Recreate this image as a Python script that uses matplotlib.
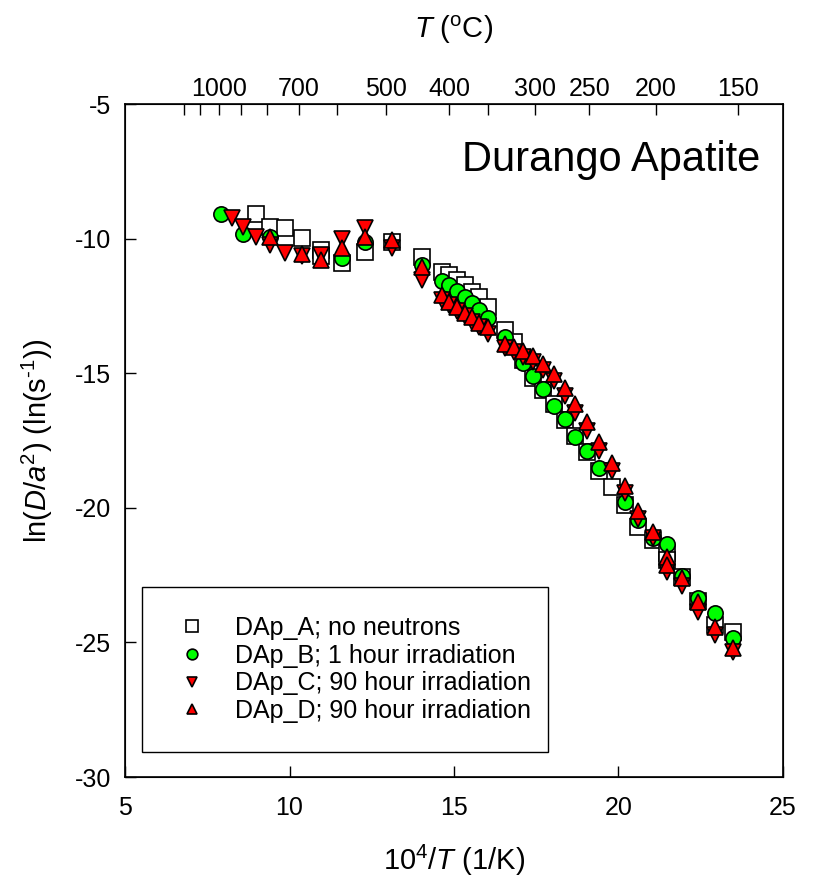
import numpy as np
import matplotlib
matplotlib.use('Agg')
import matplotlib.pyplot as plt

plt.rcParams['font.family'] = ['Liberation Sans', 'DejaVu Sans']
plt.rcParams['mathtext.fontset'] = 'custom'
plt.rcParams['mathtext.rm'] = 'Liberation Sans'
plt.rcParams['mathtext.it'] = 'Liberation Sans:italic'
plt.rcParams['axes.unicode_minus'] = False

# DAp_A; no neutrons (squares)
xa = [8.98, 9.41, 9.87, 10.38, 10.95, 10.95, 11.59, 12.29, 13.11, 14.02,
      14.63, 14.86, 15.09, 15.32, 15.54, 15.77, 16.03, 16.54, 16.82, 17.11,
      17.41, 17.71, 18.04, 18.37, 18.68, 19.05, 19.42, 19.80, 20.20, 20.60,
      21.04, 21.47, 21.47, 21.92, 22.43, 22.93, 23.47]
ya = [-9.10, -9.57, -9.61, -9.96, -10.42, -10.65, -10.91, -10.50, -10.13, -10.68,
      -11.23, -11.35, -11.54, -11.72, -11.97, -12.18, -12.53, -13.40, -13.84, -14.51,
      -15.18, -15.62, -16.14, -16.74, -17.33, -17.93, -18.63, -19.23, -19.90, -20.70,
      -21.20, -21.68, -21.94, -22.57, -23.46, -24.35, -24.61]

# DAp_B; 1 hour irradiation (green circles)
xb = [7.91, 8.58, 9.41, 11.59, 12.29, 14.02, 14.63, 14.86, 15.09, 15.32,
      15.54, 15.77, 16.03, 16.54, 17.11, 17.41, 17.71, 18.04, 18.37, 18.68,
      19.05, 19.42, 20.20, 20.60, 21.04, 21.47, 21.92, 22.43, 22.93, 23.47]
yb = [-9.10, -9.84, -9.93, -10.72, -10.13, -10.98, -11.56, -11.72, -11.95, -12.16,
      -12.38, -12.65, -12.96, -13.67, -14.63, -15.10, -15.60, -16.22, -16.71, -17.36,
      -17.88, -18.53, -19.77, -20.45, -21.12, -21.34, -22.53, -23.36, -23.90, -24.85]

# DAp_C; 90 hour irradiation (down triangles)
xc = [8.24, 8.58, 8.98, 9.41, 9.87, 10.38, 10.95, 11.59, 12.29, 13.11,
      14.02, 14.63, 14.86, 15.09, 15.32, 15.54, 15.77, 16.03, 16.54, 16.82,
      17.11, 17.41, 17.71, 18.04, 18.37, 18.68, 19.05, 19.42, 19.80, 20.20,
      20.60, 21.04, 21.47, 21.92, 22.43, 22.93, 23.47]
yc = [-9.23, -9.57, -9.93, -10.24, -10.55, -10.65, -10.61, -10.00, -9.60, -10.35,
      -11.54, -12.28, -12.47, -12.68, -12.88, -13.09, -13.29, -13.54, -14.08, -14.21,
      -14.40, -14.58, -14.88, -15.29, -15.85, -16.48, -17.15, -17.89, -18.63, -19.45,
      -20.42, -21.12, -22.37, -22.90, -23.86, -24.72, -25.36]

# DAp_D; 90 hour irradiation (up triangles)
xd = [9.41, 10.38, 10.95, 11.59, 12.29, 13.11, 14.02, 14.63, 14.86, 15.09,
      15.32, 15.54, 15.77, 16.03, 16.54, 16.82, 17.11, 17.41, 17.71, 18.04,
      18.37, 18.68, 19.05, 19.42, 19.80, 20.20, 20.60, 21.04, 21.47, 21.47,
      21.92, 22.43, 22.93, 23.47]
yd = [-9.93, -10.57, -10.80, -10.35, -9.93, -10.05, -11.04, -12.10, -12.34, -12.53,
      -12.75, -12.92, -13.15, -13.29, -13.92, -14.03, -14.18, -14.36, -14.66, -15.03,
      -15.55, -16.14, -16.81, -17.56, -18.34, -19.19, -20.12, -20.90, -21.83, -22.12,
      -22.61, -23.50, -24.43, -25.21]

labels = ['DAp_A; no neutrons', 'DAp_B; 1 hour irradiation',
          'DAp_C; 90 hour irradiation', 'DAp_D; 90 hour irradiation']

# top axis temperatures (deg C)
t_major = [1000, 700, 500, 400, 300, 250, 200, 150]
t_minor = [1200, 1100, 900, 800, 600, 350]

fig = plt.figure(figsize=(8.15, 8.86), dpi=100)
ax = fig.add_axes([0.1534, 0.1230, 0.8073, 0.7596])

ms = 11.5
ax.plot(xa, ya, 's', ms=ms, mfc='white', mec='black', mew=1.2, label=labels[0])
ax.plot(xb, yb, 'o', ms=ms - 0.5, mfc='#00ff00', mec='black', mew=1.2, label=labels[1])
ax.plot(xc, yc, 'v', ms=ms - 0.5, mfc='red', mec='black', mew=1.2, label=labels[2])
ax.plot(xd, yd, '^', ms=ms - 0.5, mfc='red', mec='black', mew=1.2, label=labels[3])

ax.set_xlim(5, 25)
ax.set_ylim(-30, -5)
ax.set_xticks([5, 10, 15, 20, 25])
ax.set_yticks([-30, -25, -20, -15, -10, -5])
ax.tick_params(axis='x', direction='in', length=8, width=1, labelsize=18, pad=14)
ax.tick_params(axis='y', direction='in', length=8, width=1, labelsize=18, pad=10)
for s in ax.spines.values():
    s.set_linewidth(1.2)

ax.set_xlabel(r'10$^{4}$/$T$ (1/K)', fontsize=21, labelpad=16)
ax.set_ylabel(r'ln($D$/$a^{2}$) (ln(s$^{\text{-1}}$))', fontsize=21, labelpad=14)

ax2 = ax.twiny()
ax2.set_xlim(5, 25)
ax2.set_xticks([1e4 / (t + 273.15) for t in t_major])
ax2.set_xticklabels([str(t) for t in t_major])
ax2.set_xticks([1e4 / (t + 273.15) for t in t_minor], minor=True)
ax2.tick_params(axis='x', which='both', direction='in', length=8, width=1, labelsize=18, pad=2.5)
ax2.set_xlabel(r'$T$ ($^{\rm o}$C)', fontsize=21, labelpad=28)

ax.text(0.965, 0.917, 'Durango Apatite', transform=ax.transAxes, fontsize=30,
        ha='right', va='center')

leg = ax.legend(loc='upper left', bbox_to_anchor=(0.0258, 0.0, 0.617, 0.2823),
                mode='expand', borderaxespad=0, fontsize=18, markerscale=0.7,
                borderpad=1.15, handlelength=1.7, handletextpad=0.86,
                labelspacing=0.15, fancybox=False, framealpha=1, edgecolor='black')
leg.get_frame().set_linewidth(1.0)

fig.savefig('out.png', dpi=100)
